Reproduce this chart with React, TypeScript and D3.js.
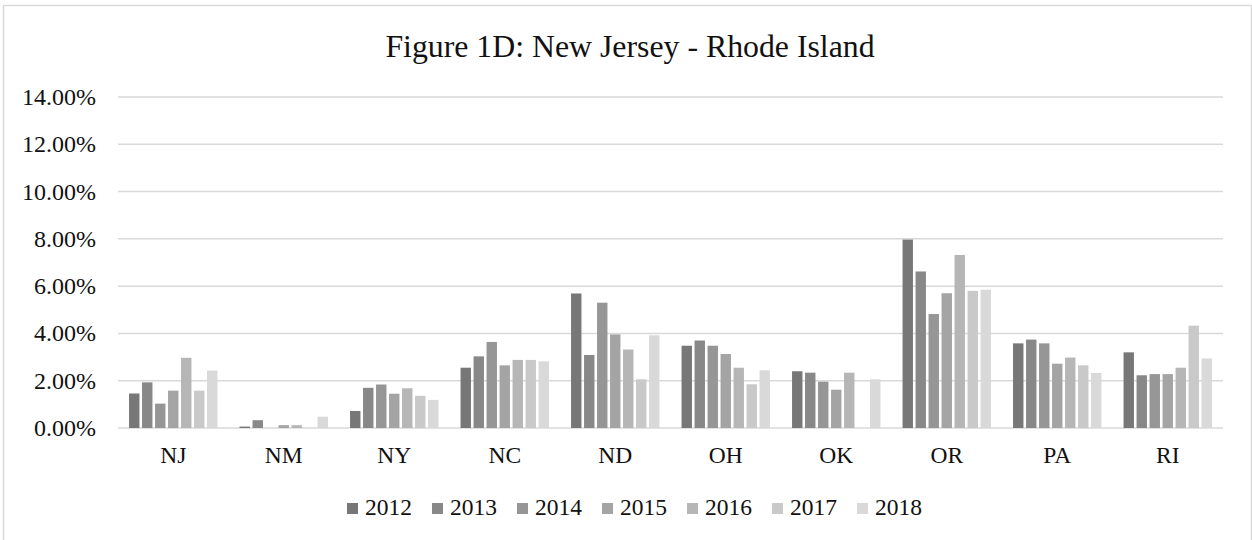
import { useEffect, useRef } from "react";
import * as d3 from "d3";

const states = ["NJ", "NM", "NY", "NC", "ND", "OH", "OK", "OR", "PA", "RI"];
const years = ["2012", "2013", "2014", "2015", "2016", "2017", "2018"];

// percent values
const v2012 = [1.46, 0.06, 0.72, 2.55, 5.69, 3.48, 2.4, 7.97, 3.58, 3.2];
const v2013 = [1.93, 0.33, 1.7, 3.03, 3.09, 3.7, 2.34, 6.62, 3.74, 2.23];
const v2014 = [1.03, 0, 1.84, 3.64, 5.3, 3.48, 1.96, 4.82, 3.58, 2.28];
const v2015 = [1.58, 0.12, 1.45, 2.65, 3.96, 3.13, 1.62, 5.7, 2.72, 2.28];
const v2016 = [2.97, 0.12, 1.68, 2.88, 3.32, 2.55, 2.34, 7.32, 2.98, 2.55];
const v2017 = [1.58, 0, 1.36, 2.88, 2.06, 1.85, 0, 5.8, 2.65, 4.33];
const v2018 = [2.43, 0.48, 1.19, 2.82, 3.92, 2.44, 2.06, 5.85, 2.33, 2.94];

const seriesValues = [v2012, v2013, v2014, v2015, v2016, v2017, v2018];
const yTicks = [0, 2, 4, 6, 8, 10, 12, 14];

const colors = ["#777777", "#888888", "#969696", "#a4a4a4", "#b6b6b6", "#c9c9c9", "#d9d9d9"];

const W = 1252;
const H = 540;
const FONT = "'Liberation Serif', 'Times New Roman', serif";

export default function App() {
  const svgRef = useRef<SVGSVGElement>(null);

  useEffect(() => {
    if (!svgRef.current) return;
    const svg = d3.select(svgRef.current);
    svg.selectAll("*").remove();

    const left = 118;
    const right = 1223;
    const top = 97;
    const bottom = 428;

    // outer chart frame
    svg
      .append("rect")
      .attr("x", 3.5)
      .attr("y", 5.5)
      .attr("width", W - 4)
      .attr("height", H)
      .attr("fill", "#fff")
      .attr("stroke", "#d9d9d9")
      .attr("stroke-width", 1.5);

    svg
      .append("text")
      .attr("x", 630)
      .attr("y", 57)
      .attr("text-anchor", "middle")
      .attr("font-family", FONT)
      .attr("font-size", 31.8)
      .attr("fill", "#111")
      .text("Figure 1D: New Jersey - Rhode Island");

    const x0 = d3.scaleBand().domain(states).range([left, right]).paddingInner(0.2).paddingOuter(0.1);
    const x1 = d3.scaleBand().domain(years).range([0, x0.bandwidth()]).paddingInner(0.2).paddingOuter(0);
    const y = d3.scaleLinear().domain([0, 14]).range([bottom, top]);

    // gridlines + tick labels
    const grid = svg.append("g");
    grid
      .selectAll("line")
      .data(yTicks)
      .enter()
      .append("line")
      .attr("x1", left)
      .attr("x2", right)
      .attr("y1", (d) => y(d))
      .attr("y2", (d) => y(d))
      .attr("stroke", "#d9d9d9")
      .attr("stroke-width", 1.5);

    grid
      .selectAll("text")
      .data(yTicks)
      .enter()
      .append("text")
      .attr("x", 96)
      .attr("y", (d) => y(d) + 8)
      .attr("text-anchor", "end")
      .attr("font-family", FONT)
      .attr("font-size", 24)
      .attr("fill", "#111")
      .text((d) => d3.format(".2f")(d) + "%");

    const groups = svg
      .append("g")
      .selectAll("g")
      .data(states)
      .enter()
      .append("g")
      .attr("transform", (d) => `translate(${x0(d)},0)`);

    groups
      .selectAll("rect")
      .data((_, i) => years.map((yr, k) => ({ yr, k, v: seriesValues[k][i] })))
      .enter()
      .append("rect")
      .attr("x", (d) => x1(d.yr) || 0)
      .attr("width", x1.bandwidth())
      .attr("y", (d) => y(d.v))
      .attr("height", (d) => bottom - y(d.v))
      .attr("fill", (d) => colors[d.k]);

    // category labels
    svg
      .append("g")
      .selectAll("text")
      .data(states)
      .enter()
      .append("text")
      .attr("x", (d) => (x0(d) || 0) + x0.bandwidth() / 2)
      .attr("y", 463)
      .attr("text-anchor", "middle")
      .attr("font-family", FONT)
      .attr("font-size", 23.5)
      .attr("fill", "#111")
      .text((d) => d);

    // legend
    const legend = svg
      .append("g")
      .selectAll("g")
      .data(years)
      .enter()
      .append("g")
      .attr("transform", (_, i) => `translate(${347 + i * 85},0)`);

    legend
      .append("rect")
      .attr("x", 0)
      .attr("y", 503)
      .attr("width", 11)
      .attr("height", 11)
      .attr("fill", (_, i) => colors[i]);

    legend
      .append("text")
      .attr("x", 18)
      .attr("y", 515)
      .attr("font-family", FONT)
      .attr("font-size", 23.5)
      .attr("fill", "#111")
      .text((d) => d);
  }, []);

  return (
    <svg
      ref={svgRef}
      width={W}
      height={H}
      viewBox={`0 0 ${W} ${H}`}
      style={{ position: "absolute", left: 0, top: 0, background: "#fff" }}
    />
  );
}
